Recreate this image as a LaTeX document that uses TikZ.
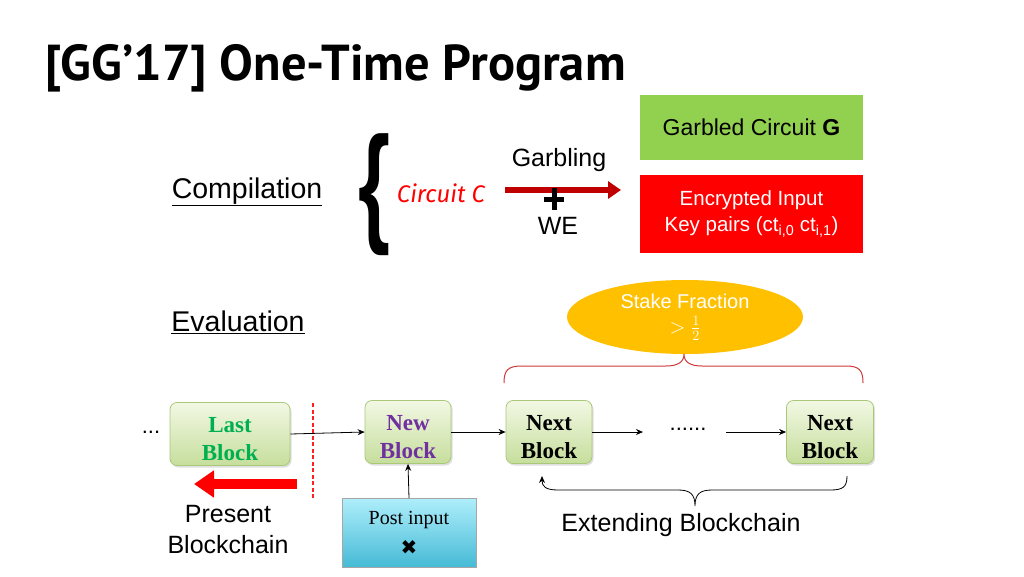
\documentclass[tikz,border=0pt]{standalone}
\usepackage{fontspec}
\setmainfont{Liberation Sans}
\newfontfamily\titlefont{PT Sans}
\newfontfamily\serifb{Liberation Serif}
\newfontfamily\comicf{Fira Sans}
\newfontfamily\djv{DejaVu Sans}
\usetikzlibrary{arrows.meta,shapes.geometric,shadows}
\definecolor{garbgreen}{HTML}{92D050}
\definecolor{encred}{HTML}{FF0000}
\definecolor{darkred}{HTML}{C00000}
\definecolor{stake}{HTML}{FFC000}
\definecolor{bracered}{HTML}{D03838}
\definecolor{dashred}{HTML}{FF2020}
\definecolor{lastgreen}{HTML}{00B050}
\definecolor{newpurple}{HTML}{7030A0}
\definecolor{blocktop}{HTML}{F2F8E4}
\definecolor{blockbot}{HTML}{C6DE9C}
\definecolor{blockedge}{HTML}{A9C878}
\definecolor{posttop}{HTML}{AEEEFB}
\definecolor{postbot}{HTML}{45BAD5}
\tikzset{
  blockbox/.style={draw=blockedge, line width=0.8pt, rounded corners=7pt,
    top color=blocktop, bottom color=blockbot, minimum height=63pt,
    align=center, inner sep=2pt,
    font=\serifb\bfseries\fontsize{23}{28}\selectfont,
    drop shadow={opacity=0.25, shadow xshift=1.5pt, shadow yshift=-2pt}},
  link/.style={-{Stealth[length=7pt,width=6pt]}, line width=0.8pt},
  plain/.style={inner sep=0pt, font=\fontsize{25}{30}\selectfont}
}
\newcommand{\lift}{\rule{0pt}{25pt}}
\begin{document}
\begin{tikzpicture}[x=1pt,y=-1pt]
\useasboundingbox (0,0) rectangle (1024,576);
\fill[white] (0,0) rectangle (1024,576);

% title
\node[anchor=base west, inner sep=0pt, font=\titlefont\bfseries\fontsize{50.5}{58}\selectfont] (title) at (45,80) {[GG’17] One-Time Program};

% compilation
\node[plain, font=\fontsize{28.5}{34}\selectfont] (comp) at (247,192) {\underline{Compilation}};
\node[plain] (brace) at (374,195) {\resizebox*{32pt}{122pt}{\bfseries\{}};
\node[plain, text=encred, font=\comicf\itshape\fontsize{24}{28}\selectfont] (circ) at (441,193) {Circuit C};
\coordinate (arrS) at (505,190);
\coordinate (arrE) at (621,190);
\draw[line width=6pt, darkred, -{Triangle[length=13pt,width=17pt]}] (arrS) -- (arrE);
\coordinate (plusC) at (554,199);
\draw[line width=5pt] ([yshift=11pt]plusC) -- ([yshift=-11pt]plusC);
\draw[line width=5pt] ([xshift=-10pt]plusC) -- ([xshift=10pt]plusC);
\node[plain] (garb) at (559,160) {Garbling};
\node[plain] (we) at (558,226) {WE};

\node[fill=garbgreen, minimum width=223pt, minimum height=65pt, inner sep=0pt, font=\fontsize{23}{27}\selectfont] (gc) at (751.5,127.5) {Garbled Circuit \textbf{G}};
\node[fill=encred, minimum width=223pt, minimum height=78pt, inner sep=0pt, align=center, text=white, font=\fontsize{20.5}{26}\selectfont] (ei) at (751.5,214) {Encrypted Input\\Key pairs (ct\textsubscript{i,0} ct\textsubscript{i,1})};

% evaluation
\node[plain, font=\fontsize{28.5}{34}\selectfont] (eval) at (238,322) {\underline{Evaluation}};
\node[ellipse, fill=stake, minimum width=236pt, minimum height=74pt, inner sep=0pt, align=center, text=white, font=\fontsize{20}{22}\selectfont] (stk) at (685,317) {Stake Fraction\\[3pt]\fontsize{21}{21}\selectfont$>\frac{1}{2}$};

% red brace
\coordinate (rbL) at (504,383);
\coordinate (rbR) at (863,383);
\coordinate (rbT) at (684,354);
\draw[bracered, line width=1pt] (rbL) .. controls (504,370) and (508,366) .. (522,366) -- (666,366) .. controls (678,366) and (684,362) .. (rbT) .. controls (684,362) and (690,366) .. (702,366) -- (846,366) .. controls (859,366) and (863,370) .. (rbR);

% blocks
\node[plain, font=\fontsize{22}{26}\selectfont] (dotsL) at (151,432) {...};
\node[blockbox, minimum width=120pt, text=lastgreen] (last) at (230,434) {\lift Last\\Block};
\node[blockbox, minimum width=86pt, text=newpurple] (new) at (408,432) {\lift New\\Block};
\node[blockbox, minimum width=86pt] (next1) at (549,432) {\lift Next\\Block};
\node[plain, font=\fontsize{22}{26}\selectfont] (dotsM) at (688,429) {......};
\node[blockbox, minimum width=87pt] (next2) at (830,432) {\lift Next\\Block};

\draw[link] (last.east) -- (new.west);
\draw[link] (new.east) -- (next1.west);
\coordinate (m1) at (643,432);
\coordinate (m2) at (726,432);
\draw[link] (next1.east) -- (m1);
\draw[link] (m2) -- (next2.west);

\coordinate (dashT) at (313,403);
\coordinate (dashB) at (313,500);
\draw[dashred, line width=1.2pt, dash pattern=on 4pt off 2.5pt] (dashT) -- (dashB);

\coordinate (pbS) at (297,484);
\coordinate (pbE) at (194,484);
\draw[encred, line width=10pt, -{Triangle[length=20pt,width=26pt]}] (pbS) -- (pbE);
\node[plain, align=center, font=\fontsize{25}{31}\selectfont] (pres) at (228,530) {Present\\Blockchain};

\node[draw=gray!70, line width=0.6pt, top color=posttop, bottom color=postbot, minimum width=134pt, minimum height=69pt, inner sep=0pt, align=center, font=\serifb\fontsize{20}{30}\selectfont] (post) at (409,533) {Post input\\\djv\fontsize{20}{22}\selectfont ✖};
\draw[link] (post.north) -- (new.south);

% extending brace
\coordinate (ebR) at (847,476);
\coordinate (ebL) at (542,476);
\draw[line width=0.8pt, -{Stealth[length=7pt,width=6pt]}] (ebR) .. controls (847,487) and (843,490) .. (830,490) -- (712,490) .. controls (700,490) and (695,494) .. (695,506) .. controls (695,494) and (690,490) .. (678,490) -- (558,490) .. controls (545,490) and (542,486) .. (ebL);
\node[plain] (ext) at (681,525) {Extending Blockchain};
\end{tikzpicture}
\end{document}
